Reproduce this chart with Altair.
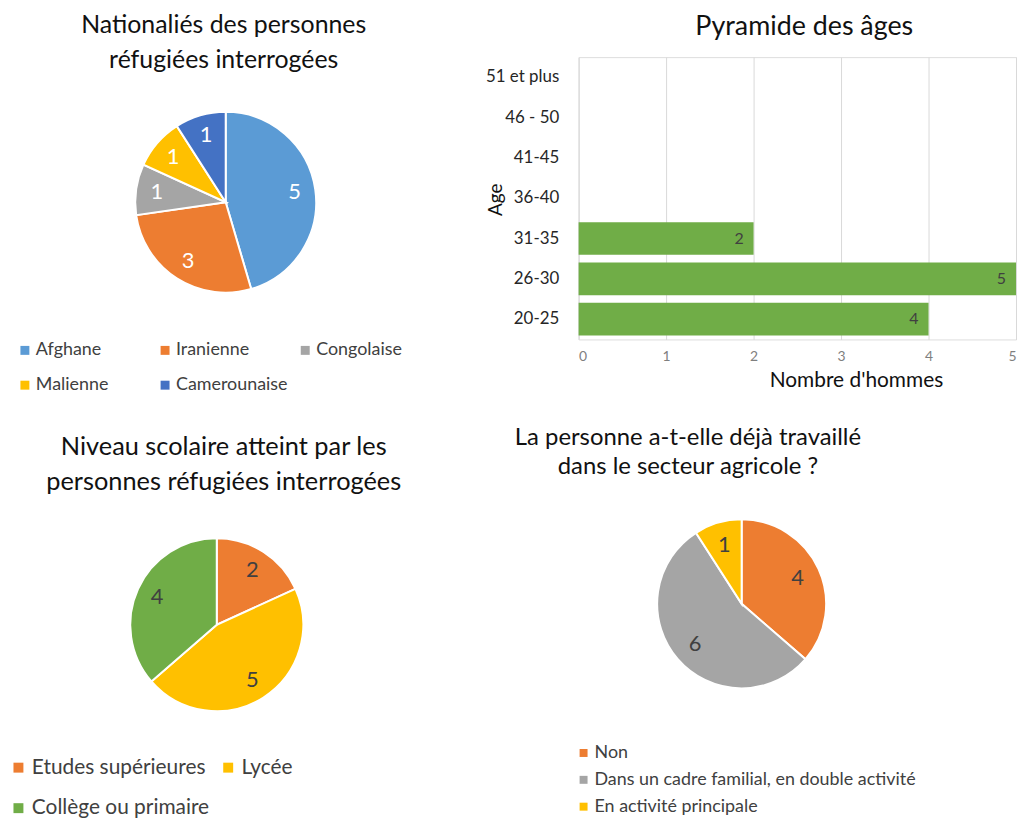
import altair as alt
import pandas as pd

FONT = "Lato"

# --- Data -------------------------------------------------------------
nat_labels = ["Afghane", "Iranienne", "Congolaise", "Malienne", "Camerounaise"]
nat_values = [5, 3, 1, 1, 1]
nat_colors = ["#5B9BD5", "#ED7D31", "#A5A5A5", "#FFC000", "#4472C4"]

age_labels = ["51 et plus", "46 - 50", "41-45", "36-40", "31-35", "26-30", "20-25"]
age_values = [None, None, None, None, 2, 5, 4]
age_ticks = [0, 1, 2, 3, 4, 5]

edu_labels = ["Etudes supérieures", "Lycée", "Collège ou primaire"]
edu_values = [2, 5, 4]
edu_colors = ["#ED7D31", "#FFC000", "#70AD47"]

agri_labels = ["Non", "Dans un cadre familial, en double activité", "En activité principale"]
agri_values = [4, 6, 1]
agri_colors = ["#ED7D31", "#A5A5A5", "#FFC000"]


def pie(labels, values, colors, field, radius, label_radius, label_color,
        title, title_size, title_lh, title_offset, title_dx, legend, w, h):
    df = pd.DataFrame({field: labels, "n": values, "ordre": list(range(len(labels)))})
    base = alt.Chart(df).encode(
        theta=alt.Theta("n:Q", stack=True),
        order=alt.Order("ordre:Q"),
    )
    arc = base.mark_arc(outerRadius=radius, stroke="white", strokeWidth=2).encode(
        color=alt.Color(f"{field}:N", scale=alt.Scale(domain=labels, range=colors),
                        legend=legend)
    )
    txt = base.mark_text(radius=label_radius, fontSize=22, font=FONT,
                         color=label_color).encode(text="n:Q")
    return alt.layer(arc, txt).properties(
        width=w, height=h,
        title=alt.TitleParams(text=title, fontSize=title_size, font=FONT,
                              fontWeight="normal", color="#111111",
                              lineHeight=title_lh, anchor="middle",
                              offset=title_offset, dx=title_dx),
    )


leg_a = alt.Legend(orient="none", legendX=-86, legendY=286, direction="horizontal",
                   columns=3, gridAlign="all", columnPadding=8, rowPadding=17,
                   symbolType="square", symbolSize=81, symbolStrokeWidth=0,
                   labelFont=FONT, labelFontSize=18, labelColor="#404040",
                   labelOffset=2, labelLimit=0, title=None)
chart_a = pie(nat_labels, nat_values, nat_colors, "Nationalité", 91, 70, "white",
              ["Nationaliés des personnes", "réfugiées interrogées"], 25, 35, -16, -2,
              leg_a, 250, 292)

leg_c = alt.Legend(orient="none", legendX=-94, legendY=238, direction="horizontal",
                   columns=2, gridAlign="each", columnPadding=8, rowPadding=19,
                   symbolType="square", symbolSize=100, symbolStrokeWidth=0,
                   labelFont=FONT, labelFontSize=21, labelColor="#404040",
                   labelOffset=3, labelLimit=0, title=None)
chart_c = pie(edu_labels, edu_values, edu_colors, "Niveau", 87, 66, "#404040",
              ["Niveau scolaire atteint par les", "personnes  réfugiées interrogées"], 25.5, 35, 25, 7,
              leg_c, 232, 210)

leg_d = alt.Legend(orient="none", legendX=-4, legendY=225, direction="vertical",
                   rowPadding=9,
                   symbolType="square", symbolSize=64, symbolStrokeWidth=0,
                   labelFont=FONT, labelFontSize=18, labelColor="#404040",
                   labelOffset=2, labelLimit=0, title=None)
chart_d = pie(agri_labels, agri_values, agri_colors, "Agricole", 85, 62, "#404040",
              ["La personne a-t-elle déjà travaillé", "dans le secteur agricole ?"], 24, 29, 37, -54,
              leg_d, 328, 168)

# --- Bar chart --------------------------------------------------------
age_df = pd.DataFrame({"Age": age_labels, "Nombre": age_values})
bbase = alt.Chart(age_df).encode(
    y=alt.Y("Age:N", sort=age_labels,
            scale=alt.Scale(paddingInner=0.19, paddingOuter=0.1),
            axis=alt.Axis(domain=False, ticks=False, labelFont=FONT, labelFontSize=17,
                          labelColor="#262626", labelPadding=20,
                          title="Age", titleFont=FONT, titleFontSize=19,
                          titleFontWeight="normal", titleColor="#111111",
                          titleAngle=270, titleX=-84, titleY=143,
                          titleAlign="center", titleBaseline="middle")),
    x=alt.X("Nombre:Q", scale=alt.Scale(domain=[0, 5], nice=False),
            axis=alt.Axis(values=age_ticks, grid=True, gridColor="#D9D9D9",
                          domain=False, ticks=False, labelFont=FONT, labelFontSize=14,
                          labelColor="#7F7F7F", labelPadding=10,
                          title="Nombre d'hommes", titleFont=FONT, titleFontSize=21,
                          titleFontWeight="normal", titleColor="#111111",
                          titleX=279, titleY=41, titleBaseline="middle",
                          titleAlign="center")),
)
bars = bbase.mark_bar(color="#70AD47")
blabels = bbase.mark_text(align="right", dx=-10, baseline="middle", font=FONT,
                          fontSize=16, color="#404040").encode(text="Nombre:Q")
chart_b = alt.layer(bars, blabels).properties(
    width=440, height=284,
    title=alt.TitleParams(text="Pyramide des âges", fontSize=27, font=FONT,
                          fontWeight="normal", color="#111111", anchor="middle",
                          offset=16, dx=7),
)

chart = alt.concat(
    chart_a, chart_b, chart_c, chart_d,
    columns=2, spacing={"row": 174, "column": 230}, bounds="flush", align="each",
).resolve_scale(color="independent", theta="independent").resolve_legend(
    color="independent"
).properties(padding={"top": 2, "left": 0, "right": 0, "bottom": 0}).configure_view(
    strokeWidth=0
).configure(background="white")

chart.save("out.html", embed_options={"renderer": "svg", "actions": False})
